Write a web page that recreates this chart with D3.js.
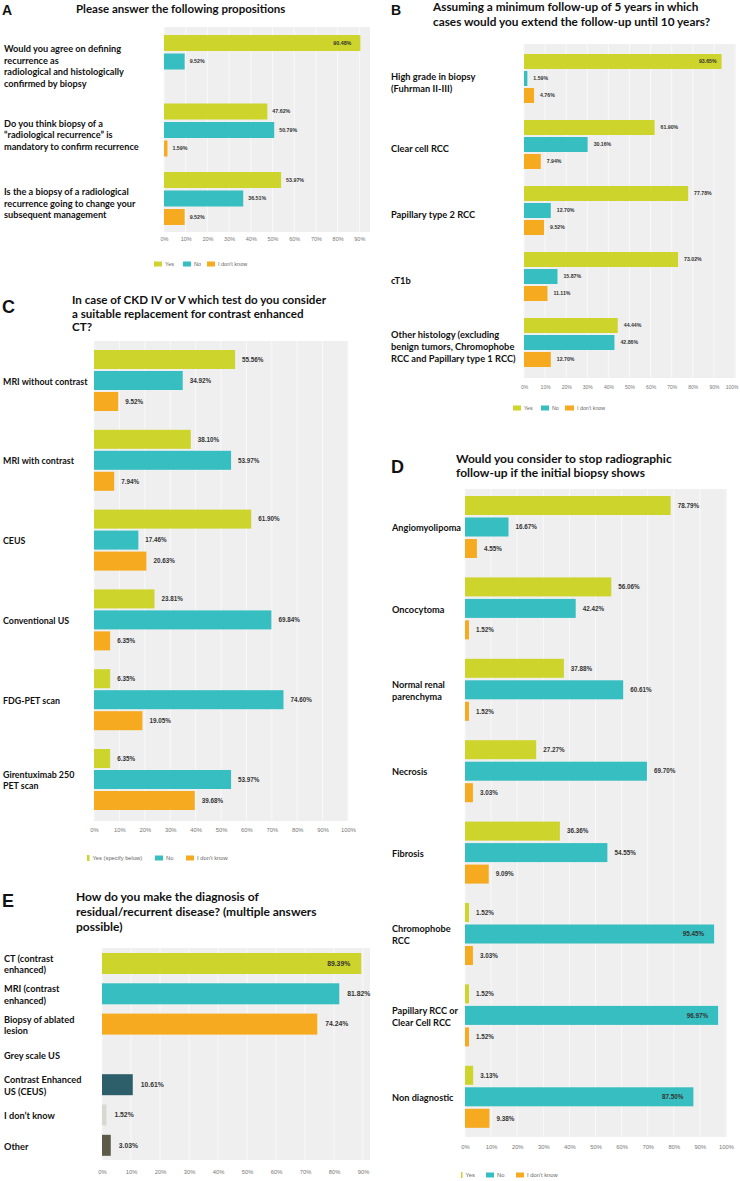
<!DOCTYPE html>
<html><head><meta charset="utf-8">
<script src="https://cdn.jsdelivr.net/npm/d3@7"></script>
<style>body{margin:0;background:#fff} svg{display:block}</style>
</head><body>
<svg id="chart" width="740" height="1181"></svg>
<script>
// ---------- DATA ----------
const seriesKeys = ["yes", "no", "idk"];
const seriesColors = ["#cdd42b", "#36bec0", "#f6aa1f"];
const ticks100 = [0, 10, 20, 30, 40, 50, 60, 70, 80, 90, 100];
const ticks90 = [0, 10, 20, 30, 40, 50, 60, 70, 80, 90];

const A_title = ["Please answer the following propositions"];
const A_categories = [
  "Would you agree on defining\nrecurrence as\nradiological and histologically\nconfirmed by biopsy",
  "Do you think biopsy of a\n“radiological recurrence” is\nmandatory to confirm recurrence",
  "Is the a biopsy of a radiological\nrecurrence going to change your\nsubsequent management"
];
const A_yes = [90.48, 47.62, 53.97];
const A_no = [9.52, 50.79, 36.51];
const A_idk = [0, 1.59, 9.52];
const A_legend = ["Yes", "No", "I don't know"];

const B_title = ["Assuming a minimum follow-up of 5 years in which", "cases would you extend the follow-up until 10 years?"];
const B_categories = [
  "High grade in biopsy\n(Fuhrman II-III)",
  "Clear cell RCC",
  "Papillary type 2 RCC",
  "cT1b",
  "Other histology (excluding\nbenign tumors, Chromophobe\nRCC and Papillary type 1 RCC)"
];
const B_yes = [93.65, 61.90, 77.78, 73.02, 44.44];
const B_no = [1.59, 30.16, 12.70, 15.87, 42.86];
const B_idk = [4.76, 7.94, 9.52, 11.11, 12.70];
const B_legend = ["Yes", "No", "I don't know"];

const C_title = ["In case of CKD IV or V which test do you consider", "a suitable replacement for contrast enhanced", "CT?"];
const C_categories = [
  "MRI without contrast",
  "MRI with contrast",
  "CEUS",
  "Conventional US",
  "FDG-PET scan",
  "Girentuximab 250\nPET scan"
];
const C_yes = [55.56, 38.10, 61.90, 23.81, 6.35, 6.35];
const C_no = [34.92, 53.97, 17.46, 69.84, 74.60, 53.97];
const C_idk = [9.52, 7.94, 20.63, 6.35, 19.05, 39.68];
const C_legend = ["Yes (specify below)", "No", "I don't know"];

const D_title = ["Would you consider to stop radiographic", "follow-up if the initial biopsy shows"];
const D_categories = [
  "Angiomyolipoma",
  "Oncocytoma",
  "Normal renal\nparenchyma",
  "Necrosis",
  "Fibrosis",
  "Chromophobe\nRCC",
  "Papillary RCC or\nClear Cell RCC",
  "Non diagnostic"
];
const D_yes = [78.79, 56.06, 37.88, 27.27, 36.36, 1.52, 1.52, 3.13];
const D_no = [16.67, 42.42, 60.61, 69.70, 54.55, 95.45, 96.97, 87.50];
const D_idk = [4.55, 1.52, 1.52, 3.03, 9.09, 3.03, 1.52, 9.38];
const D_legend = ["Yes", "No", "I don't know"];

const E_title = ["How do you make the diagnosis of", "residual/recurrent disease? (multiple answers", "possible)"];
const E_categories = [
  "CT (contrast\nenhanced)",
  "MRI (contrast\nenhanced)",
  "Biopsy of ablated\nlesion",
  "Grey scale US",
  "Contrast Enhanced\nUS (CEUS)",
  "I don’t know",
  "Other"
];
const E_values = [89.39, 81.82, 74.24, 0, 10.61, 1.52, 3.03];
const E_colors = ["#cdd42b", "#36bec0", "#f6aa1f", "#bbbbbb", "#2d5f6b", "#d8d8d0", "#5d5a4a"];

// ---------- DRAWING ----------
const svg = d3.select("#chart");
const LBL_FONT = "Lato, 'Open Sans', sans-serif";
const NUM_FONT = "'Liberation Sans', Arial, sans-serif";

function panelLetter(letter, x, y, size) {
  svg.append("text").attr("x", x).attr("y", y).text(letter)
    .attr("font-family", NUM_FONT).attr("font-weight", "bold")
    .attr("font-size", size).attr("fill", "#111");
}
function title(lines, x, y0, lh, size) {
  const t = svg.append("text").attr("font-family", LBL_FONT).attr("font-weight", "bold")
    .attr("font-size", size).attr("fill", "#111");
  lines.forEach((l, i) => t.append("tspan").attr("x", x).attr("y", y0 + i * lh).text(l));
}
function multiLabel(g, str, x, cy, lh, size) {
  const lines = str.split("\n");
  const t = g.append("text").attr("font-family", LBL_FONT).attr("font-weight", "bold")
    .attr("font-size", size).attr("fill", "#111");
  const y0 = cy - (lines.length - 1) / 2 * lh;
  lines.forEach((l, i) => t.append("tspan").attr("x", x).attr("y", y0 + i * lh).attr("dy", "0.35em").text(l));
}
function plotFrame(g, x, cfg) {
  g.append("rect").attr("x", cfg.x0).attr("y", cfg.top)
    .attr("width", cfg.bgRight - cfg.x0).attr("height", cfg.bottom - cfg.top).attr("fill", "#efefef");
  g.selectAll("line.grid").data(cfg.ticks.filter(t => x(t) <= cfg.bgRight)).join("line")
    .attr("class", "grid")
    .attr("x1", d => x(d)).attr("x2", d => x(d))
    .attr("y1", cfg.top).attr("y2", cfg.bottom)
    .attr("stroke", "#f9f9f9").attr("stroke-width", 1);
  const ax = g.append("g").attr("transform", `translate(0,${cfg.tickY})`)
    .call(d3.axisBottom(x).tickValues(cfg.ticks).tickFormat(d => d + "%").tickSize(0));
  ax.select(".domain").remove();
  ax.selectAll("text").attr("y", 0).attr("dy", "0.35em")
    .attr("font-family", NUM_FONT).attr("font-size", cfg.tickFont).attr("fill", "#777");
  // keep tick labels inside the page
  ax.selectAll(".tick").each(function () {
    const t = d3.select(this).select("text");
    const bb = this.getBoundingClientRect();
    if (bb.right > 739) t.attr("dx", -(bb.right - 739));
  });
}
function valueLabels(g, x, items, cfg) {
  g.selectAll("text.val").data(items.filter(d => d.v > 0)).join("text")
    .attr("class", "val")
    .attr("x", d => d.v > 85 ? x(d.v) - cfg.inPad : x(d.v) + cfg.outPad)
    .attr("text-anchor", d => d.v > 85 ? "end" : "start")
    .attr("y", d => d.y + d.h / 2).attr("dy", "0.35em")
    .attr("font-family", NUM_FONT).attr("font-weight", "bold")
    .attr("font-size", cfg.valFont).attr("fill", "#333")
    .text(d => d.v.toFixed(2) + "%");
}
function legend(g, cfg, labels) {
  labels.forEach((l, i) => {
    const it = cfg.legend[i];
    g.append("rect").attr("x", it.x).attr("y", cfg.legendY - it.h / 2)
      .attr("width", it.w).attr("height", it.h).attr("fill", seriesColors[i]);
    g.append("text").attr("x", it.x + it.w + 3).attr("y", cfg.legendY).attr("dy", "0.35em")
      .attr("font-family", NUM_FONT).attr("font-size", cfg.legendFont).attr("fill", "#666").text(l);
  });
}

function drawGrouped(cfg) {
  const g = svg.append("g");
  const x = d3.scaleLinear().domain([0, 100]).range([cfg.x0, cfg.x100]);
  plotFrame(g, x, cfg);
  const n = cfg.categories.length;
  const gap = cfg.barStep - cfg.barH;
  const gTop = cfg.yellowTop - gap / 2;
  const yG = d3.scaleBand().domain(d3.range(n)).range([gTop, gTop + n * cfg.gStep]);
  const p = gap / cfg.barStep;
  const yS = d3.scaleBand().domain(seriesKeys).range([0, 3 * cfg.barStep]).paddingInner(p).paddingOuter(p / 2);
  const items = [];
  cfg.categories.forEach((c, i) => {
    cfg.series.forEach((arr, k) => {
      items.push({ v: arr[i], k, y: yG(i) + yS(seriesKeys[k]), h: yS.bandwidth() });
    });
    multiLabel(g, c, cfg.labelX, yG(i) + 1.5 * cfg.barStep + cfg.labelOff, cfg.labelLH, cfg.labelFont);
  });
  g.selectAll("rect.bar").data(items.filter(d => d.v > 0)).join("rect")
    .attr("class", "bar")
    .attr("x", x(0)).attr("width", d => x(d.v) - x(0))
    .attr("y", d => d.y).attr("height", d => d.h)
    .attr("fill", d => seriesColors[d.k]);
  valueLabels(g, x, items, cfg);
  legend(g, cfg, cfg.legendLabels);
}

// Panel A
panelLetter("A", 2, 15, 14);
title(A_title, 76, 13, 15, 11.5);
drawGrouped({
  categories: A_categories, series: [A_yes, A_no, A_idk], legendLabels: A_legend,
  x0: 164, x100: 381, bgRight: 370, top: 27, bottom: 232, tickY: 239, ticks: ticks90, tickFont: 5.5,
  yellowTop: 35, gStep: 68.5, barStep: 18.5, barH: 16,
  labelX: 4, labelOff: 5, labelLH: 11.5, labelFont: 9.2,
  valFont: 5.3, outPad: 5, inPad: 9,
  legendY: 264, legendFont: 5.5,
  legend: [{ x: 154, w: 8, h: 5 }, { x: 183, w: 8, h: 5 }, { x: 207, w: 8, h: 5 }]
});

// Panel B
panelLetter("B", 391, 15, 14);
title(B_title, 433, 11, 15, 11.8);
drawGrouped({
  categories: B_categories, series: [B_yes, B_no, B_idk], legendLabels: B_legend,
  x0: 524, x100: 735, bgRight: 736, top: 44, bottom: 378, tickY: 387, ticks: ticks100, tickFont: 5,
  yellowTop: 54, gStep: 66, barStep: 17, barH: 15,
  labelX: 391, labelOff: 4, labelLH: 12, labelFont: 9.3,
  valFont: 5.2, outPad: 6, inPad: 5,
  legendY: 408, legendFont: 5.3,
  legend: [{ x: 513, w: 8, h: 5 }, { x: 541, w: 8, h: 5 }, { x: 565, w: 9, h: 5 }]
});

// Panel C
panelLetter("C", 2, 313, 18);
title(C_title, 72, 304, 13.5, 11.6);
drawGrouped({
  categories: C_categories, series: [C_yes, C_no, C_idk], legendLabels: C_legend,
  x0: 94, x100: 348, bgRight: 348, top: 341, bottom: 821, tickY: 830, ticks: ticks100, tickFont: 5.8,
  yellowTop: 350, gStep: 79.8, barStep: 21, barH: 19,
  labelX: 3, labelOff: 1, labelLH: 11.5, labelFont: 8.9,
  valFont: 6.3, outPad: 7, inPad: 9,
  legendY: 858, legendFont: 5.8,
  legend: [{ x: 87, w: 2.5, h: 6 }, { x: 155, w: 8, h: 5 }, { x: 186, w: 8, h: 5 }]
});

// Panel D
panelLetter("D", 391, 473, 18);
title(D_title, 456, 463, 14, 12);
drawGrouped({
  categories: D_categories, series: [D_yes, D_no, D_idk], legendLabels: D_legend,
  x0: 465, x100: 726, bgRight: 727, top: 489, bottom: 1137, tickY: 1147, ticks: ticks100, tickFont: 5.8,
  yellowTop: 496, gStep: 81.4, barStep: 21.5, barH: 19,
  labelX: 392, labelOff: 1, labelLH: 12, labelFont: 9.2,
  valFont: 6.3, outPad: 7, inPad: 10,
  legendY: 1175, legendFont: 5.8,
  legend: [{ x: 461, w: 1.5, h: 6 }, { x: 486, w: 8, h: 5 }, { x: 516, w: 8, h: 5 }]
});

// Panel E
panelLetter("E", 2, 907, 18);
title(E_title, 76, 901, 15, 12);
(function () {
  const cfg = { x0: 102, x100: 392, bgRight: 370, top: 948, bottom: 1160, tickY: 1172, ticks: ticks90, tickFont: 5.8,
    valFont: 6.8, outPad: 8, inPad: 11 };
  const g = svg.append("g");
  const x = d3.scaleLinear().domain([0, 100]).range([cfg.x0, cfg.x100]);
  plotFrame(g, x, cfg);
  const step = 30.3, barH = 21, gap = step - barH;
  const p = gap / step;
  const top = 953 - gap / 2;
  const y = d3.scaleBand().domain(E_categories).range([top, top + E_categories.length * step])
    .paddingInner(p).paddingOuter(p / 2);
  const items = E_categories.map((c, i) => ({ c, v: E_values[i], col: E_colors[i], y: y(c), h: y.bandwidth() }));
  g.selectAll("rect.bar").data(items.filter(d => d.v > 0)).join("rect")
    .attr("class", "bar").attr("x", x(0)).attr("width", d => x(d.v) - x(0))
    .attr("y", d => d.y).attr("height", d => d.h).attr("fill", d => d.col);
  valueLabels(g, x, items, cfg);
  items.forEach(d => multiLabel(g, d.c, 4, d.y + d.h / 2 + 1, 11.5, 9.2));
})();
</script>
</body></html>
